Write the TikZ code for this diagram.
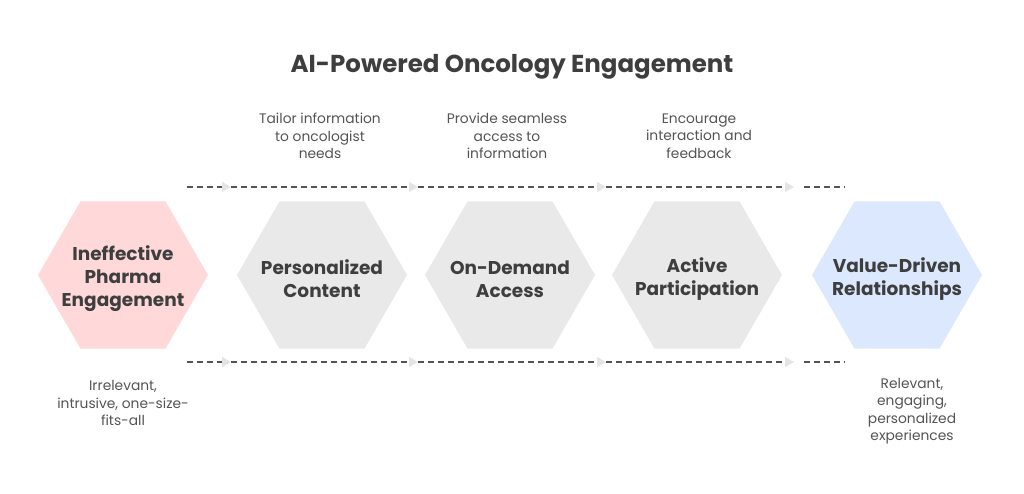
\documentclass[tikz,border=0pt]{standalone}
\usepackage{fontspec}
\setmainfont{Poppins}
\usetikzlibrary{shapes.geometric,arrows.meta,positioning}

\definecolor{hexpink}{RGB}{255,217,217}
\definecolor{hexgray}{RGB}{233,233,233}
\definecolor{hexblue}{RGB}{219,232,253}
\definecolor{inkdark}{RGB}{62,62,62}
\definecolor{inkmid}{RGB}{84,84,84}
\definecolor{tipgray}{RGB}{228,228,228}

\tikzset{
    % Hexagon styles - flat top, no border
    hex/.style={regular polygon, regular polygon sides=6, minimum size=170pt, inner sep=0pt, draw=none},
    hex pink/.style={hex, fill=hexpink},
    hex gray/.style={hex, fill=hexgray},
    hex blue/.style={hex, fill=hexblue},
    % Label styles
    hex label/.style={font=\fontsize{18.5}{23}\selectfont\bfseries, text=inkdark, align=center},
    note label/.style={font=\fontsize{13.8}{17.5}\selectfont, text=inkmid, align=center},
    title label/.style={font=\fontsize{24.5}{28}\selectfont\bfseries, text=inkdark},
    % Dashed flow lines
    flow/.style={dash pattern=on 6pt off 4pt, line width=1.3pt, inkmid, -{Triangle[length=9pt,width=10pt,color=tipgray]}},
    flow end/.style={dash pattern=on 6pt off 4pt, line width=1.3pt, inkmid},
}

\begin{document}
\begin{tikzpicture}[x=1pt,y=-1pt]
    \useasboundingbox (0,0) rectangle (1024,493);

    % Title
    \node[title label] (title) at (512,67) {AI-Powered Oncology Engagement};

    % Hexagons
    \node[hex pink] (ineff) at (123,275) {};
    \node[hex gray] (pers) at (322,275) {};
    \node[hex gray] (demand) at (510,275) {};
    \node[hex gray] (active) at (697,275) {};
    \node[hex blue] (value) at (897,275) {};

    \node[hex label] (ineff text) at ([yshift=-4pt]ineff) {Ineffective\\Pharma\\Engagement};
    \node[hex label] (pers text) at ([yshift=-4pt]pers) {Personalized\\Content};
    \node[hex label] (demand text) at ([yshift=-4pt]demand) {On-Demand\\Access};
    \node[hex label] (active text) at ([yshift=-4pt]active) {Active\\Participation};
    \node[hex label] (value text) at ([yshift=-4pt]value) {Value-Driven\\Relationships};

    % Notes above
    \node[note label] (pers note) at (320,136) {Tailor information\\to oncologist\\needs};
    \node[note label] (demand note) at (507,136) {Provide seamless\\access to\\information};
    \node[note label] (active note) at (699,136) {Encourage\\interaction and\\feedback};

    % Notes below
    \node[note label] (ineff note) at (123,403) {Irrelevant,\\intrusive, one-size-\\fits-all};
    \node[note label] (value note) at (912,411) {Relevant,\\engaging,\\personalized\\experiences};

    % Top flow line
    \coordinate (t0) at (187,187);
    \coordinate (t1) at (231,187);
    \coordinate (t2) at (418,187);
    \coordinate (t3) at (606,187);
    \coordinate (t4) at (794,187);
    \coordinate (t5) at (845,187);
    \draw[flow] (t0) -- (t1);
    \draw[flow] (t1) -- (t2);
    \draw[flow] (t2) -- (t3);
    \draw[flow] (t3) -- (t4);
    \draw[flow end] ([xshift=10pt]t4) -- (t5);

    % Bottom flow line
    \coordinate (b0) at (187,362);
    \coordinate (b1) at (231,362);
    \coordinate (b2) at (418,362);
    \coordinate (b3) at (606,362);
    \coordinate (b4) at (794,362);
    \coordinate (b5) at (845,362);
    \draw[flow] (b0) -- (b1);
    \draw[flow] (b1) -- (b2);
    \draw[flow] (b2) -- (b3);
    \draw[flow] (b3) -- (b4);
    \draw[flow end] ([xshift=10pt]b4) -- (b5);
\end{tikzpicture}
\end{document}
